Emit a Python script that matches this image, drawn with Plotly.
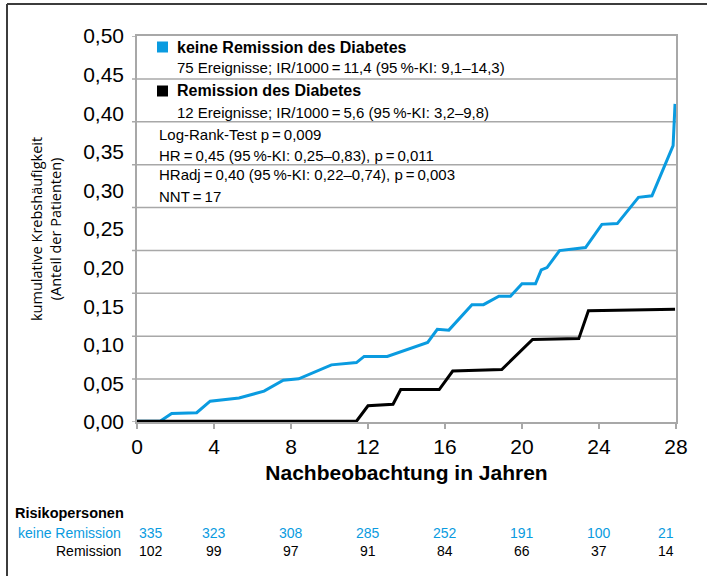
import plotly.graph_objects as go

# Kaplan-Meier-artige kumulative Krebshäufigkeit
jahre_keine = [0, 1.2, 1.8, 3.1, 3.8, 5.3, 6.6, 7.6, 8.4, 10.1, 11.4, 11.8, 13.0, 15.1,
               15.6, 16.2, 17.4, 18.0, 18.8, 19.4, 20.0, 20.7, 21.0, 21.3, 21.95, 23.3,
               24.15, 24.95, 26.05, 26.75, 27.85, 27.95]
kum_keine = [0.001, 0.001, 0.011, 0.012, 0.027, 0.031, 0.040, 0.054, 0.056, 0.074, 0.077,
             0.085, 0.085, 0.103, 0.120, 0.119, 0.152, 0.152, 0.163, 0.163, 0.179, 0.179,
             0.197, 0.200, 0.222, 0.226, 0.256, 0.257, 0.291, 0.293, 0.358, 0.412]

jahre_rem = [0, 11.4, 12.0, 13.3, 13.7, 15.7, 16.4, 18.95, 20.55, 22.95, 23.45, 27.95]
kum_rem = [0.001, 0.001, 0.021, 0.023, 0.042, 0.042, 0.066, 0.068, 0.107, 0.108, 0.144, 0.146]

# Risikopersonen-Tabelle
jahre_tab = [0, 4, 8, 12, 16, 20, 24, 28]
n_keine = [335, 323, 308, 285, 252, 191, 100, 21]
n_rem = [102, 99, 97, 91, 84, 66, 37, 14]

y_ticks = [i * 0.05 for i in range(11)]
grid_vals = [i * 0.5 / 9 for i in range(1, 9)]  # Gitterlinien der Vorlage (9 Intervalle)

BLAU = "#0a9be0"
GRAU = "#a8a8a8"
FONT = "Liberation Sans, Arial, sans-serif"

fig = go.Figure()
fig.add_trace(go.Scatter(x=jahre_keine, y=kum_keine, mode="lines",
                         line=dict(color=BLAU, width=3), name="keine Remission"))
fig.add_trace(go.Scatter(x=jahre_rem, y=kum_rem, mode="lines",
                         line=dict(color="black", width=3), name="Remission"))

fig.update_layout(
    width=707, height=576,
    margin=dict(l=137, r=31, t=36, b=154),
    paper_bgcolor="white", plot_bgcolor="white",
    separators=",.",
    showlegend=False,
    font=dict(family=FONT, color="black"),
    xaxis=dict(
        range=[0, 28], tickvals=jahre_tab,
        ticks="outside", ticklen=5, tickcolor=GRAU, tickwidth=1.5,
        showline=True, linecolor=GRAU, linewidth=1.5, mirror=True,
        showgrid=False, zeroline=False,
        tickfont=dict(size=21),
        title=dict(text="<b>Nachbeobachtung in Jahren</b>", font=dict(size=21), standoff=8),
    ),
    yaxis=dict(
        range=[0, 0.5], tickvals=y_ticks, tickformat=".2f",
        ticks="", showgrid=False, zeroline=False,
        showline=True, linecolor=GRAU, linewidth=1.5, mirror=True,
        tickfont=dict(size=21), ticklabelstandoff=7,
    ),
)

def px_x(px):
    return (px - 137) / 539

def px_y(py):
    return (422 - py) / 386

# Gitterlinien mit kleinen Strichen links
for g in grid_vals:
    fig.add_shape(type="line", xref="paper", yref="y", x0=px_x(132), x1=1, y0=g, y1=g,
                  line=dict(color=GRAU, width=1.5), layer="below")
for g in [0, 0.5]:
    fig.add_shape(type="line", xref="paper", yref="y", x0=px_x(132), x1=0, y0=g, y1=g,
                  line=dict(color=GRAU, width=1.5), layer="below")

# Legende / Statistik im Diagramm
texte = [
    ("<b>keine Remission des Diabetes</b>", 175, 47, 16),
    ("75 Ereignisse; IR/1000\u2009=\u200911,4 (95\u2009%-KI: 9,1\u201314,3)", 175, 68, 15),
    ("<b>Remission des Diabetes</b>", 175, 91, 16),
    ("12 Ereignisse; IR/1000\u2009=\u20095,6 (95\u2009%-KI: 3,2\u20139,8)", 175, 112, 15),
    ("Log-Rank-Test p\u2009=\u20090,009", 157, 134, 15),
    ("HR\u2009=\u20090,45 (95\u2009%-KI: 0,25\u20130,83), p\u2009=\u20090,011", 157, 155, 15),
    ("HRadj\u2009=\u20090,40 (95\u2009%-KI: 0,22\u20130,74), p\u2009=\u20090,003", 157, 175, 15),
    ("NNT\u2009=\u200917", 157, 196, 15),
]
for txt, px, py, size in texte:
    fig.add_annotation(text=txt, xref="paper", yref="paper", x=px_x(px), y=px_y(py),
                       xanchor="left", yanchor="middle", showarrow=False,
                       font=dict(size=size, family=FONT))

for farbe, py in [(BLAU, 47), ("black", 91)]:
    fig.add_shape(type="rect", xref="paper", yref="paper",
                  x0=px_x(157), x1=px_x(168), y0=px_y(py + 5.5), y1=px_y(py - 5.5),
                  fillcolor=farbe, line=dict(width=0))

# y-Achsentitel
fig.add_annotation(text="kumulative Krebshäufigkeit<br>(Anteil der Patienten)",
                   xref="paper", yref="paper", x=px_x(46), y=px_y(229), textangle=-90,
                   xanchor="center", yanchor="middle", showarrow=False,
                   font=dict(size=14.5, family="Open Sans, sans-serif"))

# Risikopersonen
fig.add_annotation(text="<b>Risikopersonen</b>", xref="paper", yref="paper",
                   x=px_x(13), y=px_y(513), xanchor="left", yanchor="middle",
                   showarrow=False, font=dict(size=14.5, family=FONT))
fig.add_annotation(text="keine Remission", xref="paper", yref="paper",
                   x=px_x(123), y=px_y(533), xanchor="right", yanchor="middle",
                   showarrow=False, font=dict(size=14, family=FONT, color=BLAU))
fig.add_annotation(text="Remission", xref="paper", yref="paper",
                   x=px_x(123), y=px_y(551), xanchor="right", yanchor="middle",
                   showarrow=False, font=dict(size=14, family=FONT))

for i, jahr in enumerate(jahre_tab):
    anchor = "left" if i == 0 else ("right" if i == len(jahre_tab) - 1 else "center")
    fig.add_annotation(text=str(n_keine[i]), xref="x", yref="paper", x=jahr, y=px_y(533),
                       xanchor=anchor, yanchor="middle", showarrow=False,
                       font=dict(size=14, family=FONT, color=BLAU))
    fig.add_annotation(text=str(n_rem[i]), xref="x", yref="paper", x=jahr, y=px_y(551),
                       xanchor=anchor, yanchor="middle", showarrow=False,
                       font=dict(size=14, family=FONT))

# Rahmen (oben und links)
fig.add_shape(type="line", xref="paper", yref="paper",
              x0=px_x(7), x1=px_x(710), y0=px_y(4), y1=px_y(4),
              line=dict(color="#3c3c3c", width=2))
fig.add_shape(type="line", xref="paper", yref="paper",
              x0=px_x(7), x1=px_x(7), y0=px_y(4), y1=px_y(580),
              line=dict(color="#3c3c3c", width=2))

fig.write_html("out.html", config={"displayModeBar": False},
               post_script="document.body.style.margin='0px';")
